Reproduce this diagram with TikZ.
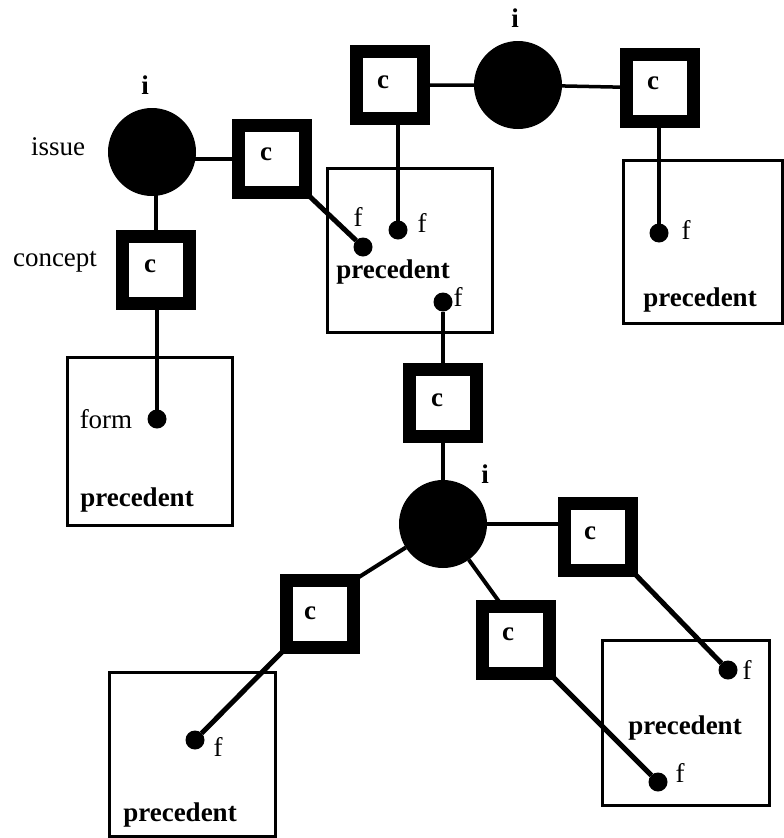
\documentclass[tikz,border=0pt]{standalone}
\usepackage{fontspec}
\setmainfont{Liberation Serif}
\usetikzlibrary{calc,backgrounds}
\begin{document}
\begin{tikzpicture}[x=1pt,y=-1pt,
  every node/.style={inner sep=0pt, outer sep=0pt},
  lbl/.style={font=\fontsize{27}{30}\selectfont},
  blbl/.style={font=\fontsize{27}{30}\selectfont\bfseries},
  issuenode/.style={circle, fill=black, minimum size=88pt},
  conceptbox/.style={draw=black, fill=white, line width=13pt, minimum size=67pt},
  formdot/.style={circle, fill=black, minimum size=19pt},
  pbox/.style={draw=black, line width=3pt, minimum width=166pt, minimum height=165pt},
  link/.style={line width=3.5pt},
  dlink/.style={line width=4pt},
  flink/.style={line width=5pt},
]
\useasboundingbox (0,0) rectangle (784,838);

% ---- left cluster
\node[issuenode] (C1) at (152,152) {};
\node[blbl] (C1i) at (145,85) {i};
\node[lbl] (issue) at (58,147) {issue};
\node[conceptbox] (S1) at (272,159) {};
\node[blbl] (S1c) at ($(S1)+(-6,-5)$) {c};
\node[conceptbox] (S2) at (156,270) {};
\node[blbl] (S2c) at ($(S2)+(-6,-4)$) {c};
\node[lbl] (concept) at (55,262) {concept};
\node[pbox, minimum width=165pt, minimum height=168pt] (B1) at (149.5,441) {};
\node[formdot] (D1) at (157,419) {};
\node[lbl] (form) at (106,419) {form};
\node[blbl] (B1p) at (137,500) {precedent};

% ---- top cluster
\node[issuenode] (C2) at (518,85) {};
\node[blbl] (C2i) at (515,18) {i};
\node[conceptbox] (S3) at (390,85) {};
\node[blbl] (S3c) at ($(S3)+(-7,-3)$) {c};
\node[conceptbox] (S4) at (660,88) {};
\node[blbl] (S4c) at ($(S4)+(-7,-5)$) {c};
\node[pbox, minimum width=165pt, minimum height=164pt] (B2) at (409.5,250) {};
\node[formdot] (D2) at (363,247) {};
\node[formdot] (D3) at (398,230) {};
\node[formdot] (D5) at (443,302) {};
\node[lbl] (D2f) at (358,217) {f};
\node[lbl] (D3f) at (422,223) {f};
\node[lbl] (D5f) at (458,297) {f};
\node[blbl] (B2p) at (393,272) {precedent};
\node[pbox, minimum width=159pt, minimum height=163pt] (B3) at (702.5,241.5) {};
\node[formdot] (D4) at (659,233) {};
\node[lbl] (D4f) at (686,230) {f};
\node[blbl] (B3p) at (700,300) {precedent};

% ---- lower cluster
\node[conceptbox] (S5) at (443,403) {};
\node[blbl] (S5c) at ($(S5)+(-6,-3)$) {c};
\node[issuenode] (C3) at (443,524) {};
\node[blbl] (C3i) at (485,474) {i};
\node[conceptbox] (S6) at (598,537) {};
\node[blbl] (S6c) at ($(S6)+(-8,-4)$) {c};
\node[conceptbox] (S7) at (516,640) {};
\node[blbl] (S7c) at ($(S7)+(-8,-6)$) {c};
\node[conceptbox] (S8) at (320,614) {};
\node[blbl] (S8c) at ($(S8)+(-10,-1)$) {c};
\node[pbox, minimum width=167pt, minimum height=165pt] (B4) at (685.5,722.5) {};
\node[formdot] (D6) at (728,670) {};
\node[lbl] (D6f) at (747,670) {f};
\node[formdot] (D7) at (658,782) {};
\node[lbl] (D7f) at (680,773) {f};
\node[blbl] (B4p) at (685,728) {precedent};
\node[pbox, minimum width=166pt, minimum height=164pt] (B5) at (192,754) {};
\node[formdot] (D8) at (195,740) {};
\node[lbl] (D8f) at (218,747) {f};
\node[blbl] (B5p) at (180,815) {precedent};

% ---- connectors, kept under the nodes
\begin{scope}[on background layer]
  \draw[link] (C1.center |- S1.center) -- (S1.center);
  \draw[link] (S2.center |- C1.center) -- (S2.center);
  \draw[link] (D1 |- S2) -- (D1);
  \draw[flink] (S1.south east) -- (D2);
  \draw[link] (S3) -- (C2) -- (S4);
  \draw[link] (D3 |- S3) -- (D3);
  \draw[link] (D4 |- S4) -- (D4);
  \draw[link] (D5) -- (D5 |- C3);
  \draw[link] (C3) -- (C3 -| S6);
  \draw[dlink] (C3) -- ($(S7.north west)!0.3!(S7.north east)$);
  \draw[dlink] (C3) -- (S8.north east);
  \draw[flink] (S6.south east) -- (D6);
  \draw[flink] (S7.south east) -- (D7);
  \draw[flink] (S8.south west) -- (D8);
\end{scope}
\end{tikzpicture}
\end{document}
